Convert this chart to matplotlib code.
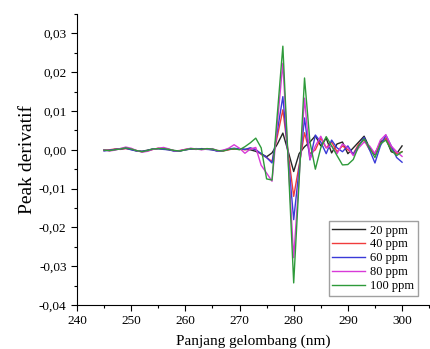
import matplotlib
matplotlib.use("Agg")
import matplotlib.pyplot as plt
from matplotlib.ticker import MultipleLocator, FuncFormatter
import numpy as np

plt.rcParams['font.family'] = ['Liberation Serif', 'DejaVu Serif']

# wavelength (nm)
wl = list(range(245, 301))

labels = ['20 ppm', '40 ppm', '60 ppm', '80 ppm', '100 ppm']
colors = ['#262626', '#f03c3c', '#3a3ad8', '#d83ad8', '#2e9a3a']

# first derivative values
d20 = [0.0000, -0.0002, 0.0001, 0.0003, 0.0004, 0.0001, -0.0003, -0.0004, -0.0001, 0.0002,
       0.0003, 0.0002, 0.0000, -0.0002, -0.0003, 0.0000, 0.0002, 0.0001, 0.0003, 0.0002,
       0.0000, -0.0003, -0.0002, 0.0001, 0.0002, 0.0003, 0.0001, 0.0000, -0.0004, -0.0010,
       -0.0018, -0.0008, 0.0015, 0.0043, -0.0005, -0.0056, -0.0010, 0.0008, 0.0020, 0.0036,
       0.0010, 0.0030, -0.0008, 0.0015, 0.0020, -0.0010, 0.0005, 0.0020, 0.0035, 0.0005,
       -0.0012, 0.0020, 0.0030, -0.0005, -0.0010, 0.0010]
d40 = [-0.0002, 0.0000, 0.0002, 0.0001, 0.0003, 0.0002, -0.0002, -0.0005, -0.0003, 0.0001,
       0.0004, 0.0003, 0.0001, -0.0003, -0.0002, 0.0001, 0.0003, 0.0002, 0.0001, 0.0003,
       0.0001, -0.0002, -0.0003, 0.0000, 0.0003, 0.0002, 0.0000, 0.0004, 0.0001, -0.0012,
       -0.0020, -0.0030, 0.0036, 0.0103, -0.0010, -0.0120, -0.0040, 0.0044, -0.0010, 0.0000,
       0.0030, 0.0005, 0.0020, -0.0005, 0.0010, 0.0000, -0.0010, 0.0015, 0.0025, 0.0000,
       -0.0008, 0.0015, 0.0030, 0.0005, -0.0010, -0.0005]
d60 = [-0.0003, -0.0001, 0.0001, 0.0002, 0.0004, 0.0000, -0.0003, -0.0004, -0.0002, 0.0002,
       0.0003, 0.0001, 0.0000, -0.0004, -0.0003, 0.0000, 0.0002, 0.0003, 0.0002, 0.0001,
       0.0000, -0.0004, -0.0002, 0.0002, 0.0004, 0.0002, 0.0001, 0.0005, 0.0000, -0.0010,
       -0.0020, -0.0034, 0.0050, 0.0137, -0.0020, -0.0180, -0.0050, 0.0082, -0.0026, 0.0038,
       0.0020, -0.0010, 0.0025, 0.0005, -0.0005, 0.0010, -0.0012, 0.0010, 0.0032, 0.0000,
       -0.0034, 0.0010, 0.0038, 0.0010, -0.0020, -0.0032]
d80 = [0.0000, -0.0003, -0.0001, 0.0003, 0.0007, 0.0004, -0.0002, -0.0006, -0.0004, 0.0001,
       0.0004, 0.0006, 0.0002, -0.0003, -0.0002, 0.0001, 0.0004, 0.0002, 0.0000, 0.0002,
       0.0003, -0.0003, -0.0001, 0.0004, 0.0013, 0.0004, -0.0009, 0.0002, 0.0006, -0.0040,
       -0.0060, -0.0081, 0.0070, 0.0223, -0.0030, -0.0278, -0.0070, 0.0133, -0.0025, 0.0010,
       0.0035, 0.0005, 0.0010, -0.0010, 0.0015, 0.0005, -0.0015, 0.0005, 0.0020, 0.0010,
       -0.0010, 0.0025, 0.0039, 0.0010, -0.0005, -0.0017]
d100 = [-0.0001, -0.0002, 0.0000, 0.0002, 0.0005, 0.0002, -0.0002, -0.0005, -0.0002, 0.0002,
        0.0003, 0.0003, 0.0001, -0.0002, -0.0003, 0.0000, 0.0003, 0.0002, 0.0001, 0.0003,
        0.0002, -0.0002, -0.0003, 0.0001, 0.0003, 0.0000, 0.0008, 0.0018, 0.0030, 0.0005,
        -0.0075, -0.0078, 0.0095, 0.0267, -0.0035, -0.0343, -0.0080, 0.0185, 0.0020, -0.0050,
        0.0005, 0.0034, 0.0010, -0.0015, -0.0039, -0.0038, -0.0025, 0.0010, 0.0028, 0.0005,
        -0.0020, 0.0015, 0.0025, 0.0000, -0.0015, -0.0005]

series = [d20, d40, d60, d80, d100]

fig = plt.figure(figsize=(4.30, 3.49), dpi=100)
ax = fig.add_axes([0.179, 0.126, 0.819, 0.834])

for vals, lab, col in zip(series, labels, colors):
    ax.plot(wl, vals, color=col, lw=1.0, label=lab)

ax.set_xlim(240, 305)
ax.set_ylim(-0.04, 0.035)
ax.xaxis.set_major_locator(MultipleLocator(10))
ax.xaxis.set_minor_locator(MultipleLocator(5))
ax.yaxis.set_major_locator(MultipleLocator(0.01))
ax.yaxis.set_minor_locator(MultipleLocator(0.005))
ax.yaxis.set_major_formatter(FuncFormatter(lambda v, p: f"{v:.2f}".replace('.', ',').replace('-0,00', '0,00')))
ax.tick_params(which='major', direction='out', length=4, width=0.8, labelsize=9.5)
ax.tick_params(which='minor', direction='out', length=2.5, width=0.8)

ax.spines['top'].set_visible(False)
ax.spines['right'].set_visible(False)

ax.set_xlabel('Panjang gelombang (nm)', fontsize=11, labelpad=5)
ax.set_ylabel('Peak derivatif', fontsize=14, labelpad=2)

ax.legend(loc='lower right', fontsize=9, frameon=True, fancybox=False, edgecolor='#888888',
          handlelength=2.6, borderpad=0.3, labelspacing=0.15, handletextpad=0.4,
          bbox_to_anchor=(0.985, 0.01))

plt.savefig('out.png', dpi=100)
